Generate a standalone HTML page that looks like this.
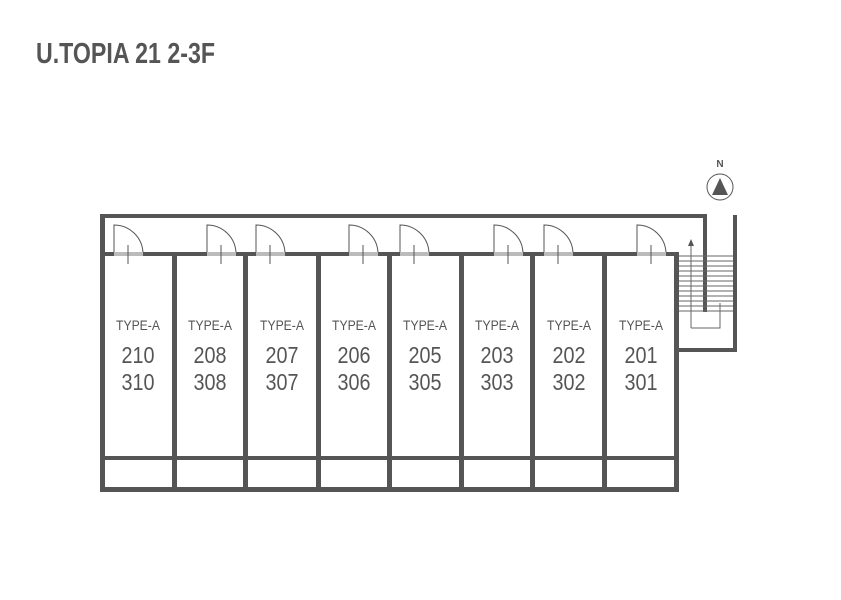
<!DOCTYPE html>
<html><head><meta charset="utf-8"><style>
html,body{margin:0;padding:0;background:#fff;width:841px;height:600px;overflow:hidden}
svg{display:block}
.t{font-family:"Liberation Sans Narrow","Liberation Sans",sans-serif;fill:#555}
</style></head><body>
<svg width="841" height="600" viewBox="0 0 841 600" xmlns="http://www.w3.org/2000/svg">
<text x="36" y="63" class="t" font-size="29" font-weight="bold" textLength="179" lengthAdjust="spacingAndGlyphs">U.TOPIA 21 2-3F</text>
<g fill="#555">
<rect x="100" y="214" width="607" height="4"/>
<rect x="703" y="214" width="4" height="98"/>
<rect x="733" y="215" width="4" height="137"/>
<rect x="675" y="348" width="62" height="4"/>
<rect x="100" y="214" width="5" height="278"/>
<rect x="100" y="252" width="579" height="4"/>
<rect x="100" y="487" width="579" height="5"/>
<rect x="100" y="456" width="579" height="4"/>
<rect x="674" y="252" width="5" height="240"/>
<rect x="172" y="252" width="5" height="240"/>
<rect x="243" y="252" width="5" height="240"/>
<rect x="316" y="252" width="5" height="240"/>
<rect x="387" y="252" width="5" height="240"/>
<rect x="459" y="252" width="5" height="240"/>
<rect x="530" y="252" width="5" height="240"/>
<rect x="602" y="252" width="5" height="240"/>
</g>
<g stroke="#666" stroke-width="1" fill="none">
<path d="M679 256H733M679 261H733M679 266H733M679 271H733M679 276H733M679 281H733M679 286H733M679 291H733M679 296H733M679 301H733M679 306H733M679 311H733"/>
<path d="M691 328V244M691 328H720V303"/>
</g>
<path d="M688 246L691 239L694 246Z" fill="#555"/>
<g fill="none" stroke="#555" stroke-width="1">
<path d="M114 253V225A29 29 0 0 1 143 253"/>
<path d="M207 253V225A29 29 0 0 1 236 253"/>
<path d="M256 253V225A29 29 0 0 1 285 253"/>
<path d="M349 253V225A29 29 0 0 1 378 253"/>
<path d="M400 253V225A29 29 0 0 1 429 253"/>
<path d="M494 253V225A29 29 0 0 1 523 253"/>
<path d="M544 253V225A29 29 0 0 1 573 253"/>
<path d="M637 253V225A29 29 0 0 1 666 253"/>
</g>
<g fill="#bbb">
<rect x="114" y="252" width="29" height="4"/><rect x="207" y="252" width="29" height="4"/>
<rect x="256" y="252" width="29" height="4"/><rect x="349" y="252" width="29" height="4"/>
<rect x="400" y="252" width="29" height="4"/><rect x="494" y="252" width="29" height="4"/>
<rect x="544" y="252" width="29" height="4"/><rect x="637" y="252" width="29" height="4"/>
</g>
<g stroke="#555" stroke-width="1">
<path d="M128 245V264M221 245V264M270 245V264M363 245V264M414 245V264M508 245V264M558 245V264M651 245V264"/>
</g>
<circle cx="720" cy="187" r="13" fill="none" stroke="#555" stroke-width="1"/>
<path d="M712 195L720 178L728 195Z" fill="#555"/>
<text x="720" y="167" class="t" font-size="10" text-anchor="middle" font-weight="bold">N</text>
<g class="t" text-anchor="middle">
<g font-size="14"><text x="138" y="330" textLength="44" lengthAdjust="spacingAndGlyphs">TYPE-A</text><text x="210" y="330" textLength="44" lengthAdjust="spacingAndGlyphs">TYPE-A</text><text x="282" y="330" textLength="44" lengthAdjust="spacingAndGlyphs">TYPE-A</text><text x="354" y="330" textLength="44" lengthAdjust="spacingAndGlyphs">TYPE-A</text><text x="425" y="330" textLength="44" lengthAdjust="spacingAndGlyphs">TYPE-A</text><text x="497" y="330" textLength="44" lengthAdjust="spacingAndGlyphs">TYPE-A</text><text x="569" y="330" textLength="44" lengthAdjust="spacingAndGlyphs">TYPE-A</text><text x="641" y="330" textLength="44" lengthAdjust="spacingAndGlyphs">TYPE-A</text></g>
<g font-size="23">
<text x="138" y="363" textLength="33" lengthAdjust="spacingAndGlyphs">210</text><text x="210" y="363" textLength="33" lengthAdjust="spacingAndGlyphs">208</text><text x="282" y="363" textLength="33" lengthAdjust="spacingAndGlyphs">207</text><text x="354" y="363" textLength="33" lengthAdjust="spacingAndGlyphs">206</text><text x="425" y="363" textLength="33" lengthAdjust="spacingAndGlyphs">205</text><text x="497" y="363" textLength="33" lengthAdjust="spacingAndGlyphs">203</text><text x="569" y="363" textLength="33" lengthAdjust="spacingAndGlyphs">202</text><text x="641" y="363" textLength="33" lengthAdjust="spacingAndGlyphs">201</text>
<text x="138" y="390" textLength="33" lengthAdjust="spacingAndGlyphs">310</text><text x="210" y="390" textLength="33" lengthAdjust="spacingAndGlyphs">308</text><text x="282" y="390" textLength="33" lengthAdjust="spacingAndGlyphs">307</text><text x="354" y="390" textLength="33" lengthAdjust="spacingAndGlyphs">306</text><text x="425" y="390" textLength="33" lengthAdjust="spacingAndGlyphs">305</text><text x="497" y="390" textLength="33" lengthAdjust="spacingAndGlyphs">303</text><text x="569" y="390" textLength="33" lengthAdjust="spacingAndGlyphs">302</text><text x="641" y="390" textLength="33" lengthAdjust="spacingAndGlyphs">301</text></g>
</g>
</svg>
</body></html>
